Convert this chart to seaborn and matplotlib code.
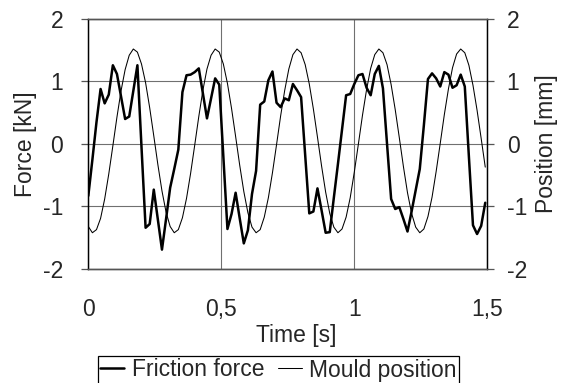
import numpy as np
import pandas as pd
import matplotlib
matplotlib.use("Agg")
import matplotlib.pyplot as plt
import seaborn as sns

SAMPLE_RATE_HZ = 65

force_kn = [
    -0.83, -0.25, 0.35, 0.88, 0.65, 0.79, 1.26, 1.12, 0.76, 0.40,
    0.44, 0.85, 1.26, -0.05, -1.34, -1.28, -0.73, -1.21, -1.69, -1.20,
    -0.70, -0.40, -0.09, 0.83, 1.10, 1.11, 1.15, 1.21, 0.81, 0.41,
    0.73, 1.05, 0.95, -0.20, -1.36, -1.12, -0.78, -1.19, -1.59, -1.38,
    -0.80, -0.43, 0.63, 0.68, 1.02, 1.16, 0.66, 0.59, 0.73, 0.70,
    0.96, 0.86, 0.75, -0.18, -1.11, -1.08, -0.71, -1.06, -1.42, -1.41,
    -0.86, -0.32, 0.23, 0.78, 0.80, 0.96, 1.10, 1.12, 0.90, 0.78,
    1.12, 1.25, 0.89, 0.00, -0.88, -1.04, -1.01, -1.20, -1.40, -1.08,
    -0.74, -0.40, 0.30, 1.04, 1.13, 1.05, 0.92, 1.15, 1.11, 0.90,
    0.94, 1.11, 0.92, -0.20, -1.30, -1.44, -1.31, -0.94,
]

position_mm = [
    -1.32, -1.42, -1.37, -1.19, -0.88, -0.48, -0.03, 0.43, 0.85, 1.19,
    1.42, 1.52, 1.47, 1.28, 0.98, 0.58, 0.13, -0.33, -0.75, -1.09,
    -1.32, -1.42, -1.37, -1.18, -0.87, -0.47, -0.02, 0.44, 0.86, 1.20,
    1.42, 1.52, 1.47, 1.28, 0.97, 0.57, 0.12, -0.34, -0.76, -1.10,
    -1.33, -1.42, -1.37, -1.17, -0.86, -0.46, -0.01, 0.45, 0.86, 1.20,
    1.43, 1.52, 1.46, 1.27, 0.96, 0.56, 0.11, -0.35, -0.77, -1.11,
    -1.33, -1.42, -1.36, -1.17, -0.86, -0.45, 0.00, 0.46, 0.87, 1.21,
    1.43, 1.52, 1.46, 1.27, 0.95, 0.55, 0.10, -0.36, -0.78, -1.11,
    -1.33, -1.42, -1.36, -1.16, -0.85, -0.44, 0.01, 0.47, 0.88, 1.22,
    1.44, 1.52, 1.46, 1.26, 0.94, 0.54, 0.09, -0.37,
]

x_ticks = [0, 0.5, 1, 1.5]
x_tick_labels = ["0", "0,5", "1", "1,5"]
y_ticks = [-2, -1, 0, 1, 2]
y_tick_labels = ["-2", "-1", "0", "1", "2"]

time_s = np.arange(len(force_kn)) / SAMPLE_RATE_HZ
df = pd.DataFrame({
    "time": time_s,
    "force": force_kn,
    "position": position_mm,
})

sns.set_theme(style="white")
plt.rcParams["font.family"] = ["Liberation Sans", "DejaVu Sans"]
plt.rcParams["axes.unicode_minus"] = False
FS = 16.5

W, H = 563, 383
fig = plt.figure(figsize=(W / 100, H / 100), dpi=100)
ax = fig.add_axes([88.3 / W, 1 - 269 / H, 399 / W, 250 / H])
ax2 = ax.twinx()

sns.lineplot(data=df, x="time", y="force", ax=ax, color="black",
             linewidth=1.8, label="Friction force", legend=False)
sns.lineplot(data=df, x="time", y="position", ax=ax2, color="black",
             linewidth=0.75, label="Mould position", legend=False)

for a in (ax, ax2):
    a.set_xlim(0, 1.5)
    a.set_ylim(-2, 2)
    a.set_yticks(y_ticks)
    a.set_yticklabels(y_tick_labels, fontsize=FS)
    for side in ("top", "bottom"):
        a.spines[side].set_color("#555555")
        a.spines[side].set_linewidth(1.0)
    for side in ("left", "right"):
        a.spines[side].set_color("black")
        a.spines[side].set_linewidth(0.9)

ax.set_xticks(x_ticks)
ax.set_xticklabels(x_tick_labels, fontsize=FS)
ax.tick_params(axis="x", length=0, pad=21)
ax.tick_params(axis="y", direction="out", length=5, width=0.9,
               color="#555555", pad=13, left=True)
ax2.tick_params(axis="y", direction="out", length=5, width=0.9,
                color="#555555", pad=9, right=True)

ax.grid(True, color="#707070", linewidth=0.8)
ax2.grid(False)
ax.set_axisbelow(True)

ax.set_xlabel("Time [s]", fontsize=FS)
ax.set_ylabel("Force [kN]", fontsize=FS)
ax2.set_ylabel("Position [mm]", fontsize=FS)
ax.xaxis.set_label_coords(0.52, -0.22)
ax.yaxis.set_label_coords(-0.1286, 0.5)
ax2.yaxis.set_label_coords(1.1195, 0.5)

h1, l1 = ax.get_legend_handles_labels()
h2, l2 = ax2.get_legend_handles_labels()
leg = fig.legend(h1 + h2, l1 + l2, loc="center", ncol=2,
                 bbox_to_anchor=(278.5 / W, 1 - 370 / H),
                 fontsize=FS, frameon=True, fancybox=False,
                 edgecolor="black", framealpha=1, handlelength=1.05,
                 handletextpad=0.33, columnspacing=0.57, borderpad=0.1,
                 borderaxespad=0)
leg.get_frame().set_linewidth(0.9)

fig.savefig("out.png", dpi=100)
